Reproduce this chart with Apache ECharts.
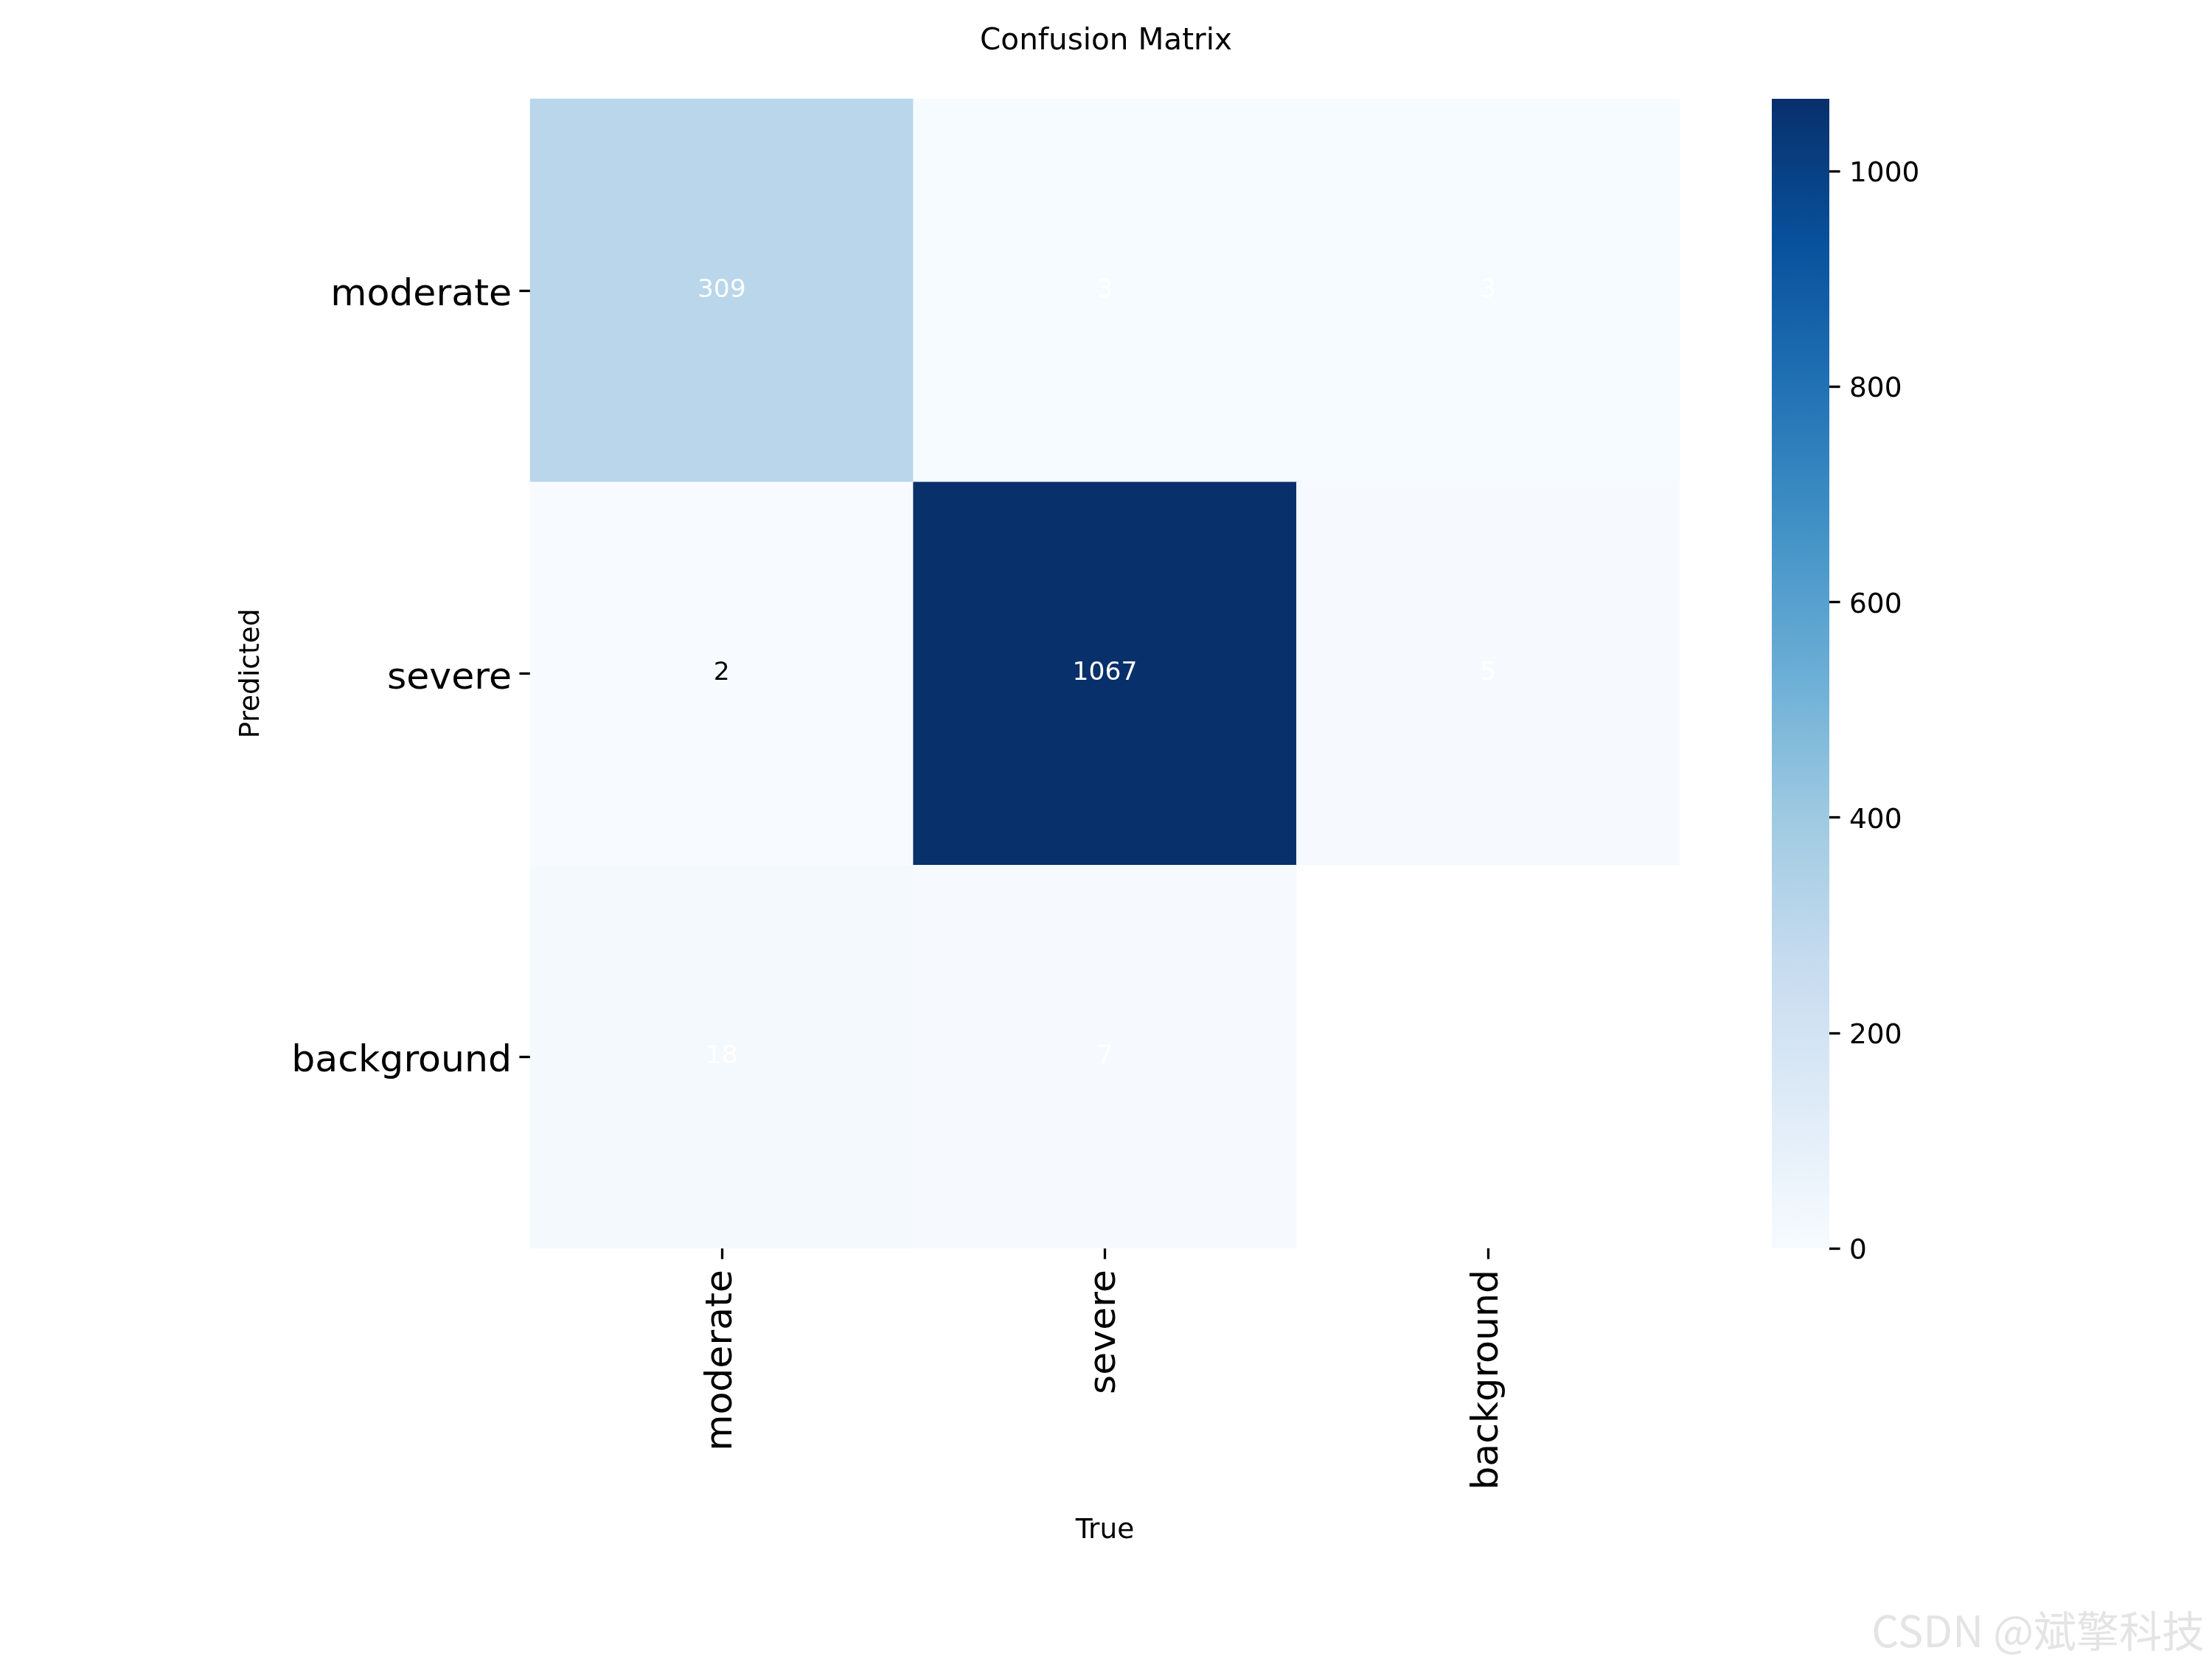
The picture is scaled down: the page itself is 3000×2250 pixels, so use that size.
<!DOCTYPE html>
<html>
<head>
<meta charset="utf-8">
<script src="https://cdn.jsdelivr.net/npm/echarts@6/dist/echarts.min.js"></script>
<style>
  html, body { margin: 0; padding: 0; background: #ffffff; }
  #chart { width: 3000px; height: 2250px; }
</style>
</head>
<body>
<div id="chart"></div>
<script>
// ---- data ----
const trueLabels = ['moderate', 'severe', 'background'];       // columns (x)
const predictedLabels = ['moderate', 'severe', 'background'];  // rows (y)
const rowModerate = [309, 3, 3];
const rowSevere = [2, 1067, 5];
const rowBackground = [18, 7, null];
const matrixRows = [rowModerate, rowSevere, rowBackground];
const colorbarTicks = [0, 200, 400, 600, 800, 1000];
const colorMin = 0;
const colorMax = 1067;

// annotation text colour per cell (style, kept separate from data)
const annotColors = [
  ['#ffffff', '#ffffff', '#ffffff'],
  ['#000000', '#ffffff', '#ffffff'],
  ['#ffffff', '#ffffff', '#ffffff']
];

// matplotlib "Blues"
const blues = ['#f7fbff', '#deebf7', '#c6dbef', '#9ecae1', '#6baed6',
               '#4292c6', '#2171b5', '#08519c', '#08306b'];

const heatData = [];
matrixRows.forEach((row, r) => {
  row.forEach((v, c) => {
    heatData.push({
      value: [c, r, v === null ? '-' : v],
      label: { color: annotColors[r][c] }
    });
  });
});

// colorbar gradient: same evenly spaced stops the visualMap uses
const colorbarGradient = new echarts.graphic.LinearGradient(0, 1, 0, 0,
  blues.map((c, i) => ({ offset: i / (blues.length - 1), color: c })));

const FONT = 'DejaVu Sans';
const chart = echarts.init(document.getElementById('chart'), null, { renderer: 'canvas' });

const option = {
  animation: false,
  backgroundColor: '#ffffff',
  textStyle: { fontFamily: FONT },
  title: {
    text: 'Confusion Matrix',
    left: 'center',
    top: 31,
    textStyle: { fontFamily: FONT, fontSize: 40.5, fontWeight: 'normal', color: '#000000' }
  },
  grid: [
    { left: 719, top: 134, width: 1559, height: 1559, containLabel: false, outerBoundsMode: 'none' },
    { left: 2403, top: 134, width: 78, height: 1559, containLabel: false, outerBoundsMode: 'none' }
  ],
  xAxis: [
    {
      type: 'category',
      gridIndex: 0,
      data: trueLabels,
      position: 'bottom',
      name: 'True',
      nameLocation: 'middle',
      nameGap: 364,
      nameTextStyle: { fontFamily: FONT, fontSize: 37.5, color: '#000000' },
      axisLine: { show: false },
      axisTick: { show: true, alignWithLabel: true, length: 14.6, lineStyle: { color: '#000000', width: 3.3 } },
      axisLabel: { rotate: 90, margin: 29, fontFamily: FONT, fontSize: 50.5, color: '#000000' },
      splitLine: { show: false },
      splitArea: { show: false }
    },
    {
      type: 'category',
      gridIndex: 1,
      data: [''],
      show: false
    }
  ],
  yAxis: [
    {
      type: 'category',
      gridIndex: 0,
      data: predictedLabels,
      inverse: true,
      name: 'Predicted',
      nameLocation: 'middle',
      nameGap: 359,
      nameTextStyle: { fontFamily: FONT, fontSize: 37.5, color: '#000000' },
      axisLine: { show: false },
      axisTick: { show: true, alignWithLabel: true, length: 14.6, lineStyle: { color: '#000000', width: 3.3 } },
      axisLabel: {
        margin: 25, fontFamily: FONT, fontSize: 50.5, color: '#000000',
        formatter: v => '{t|' + v + '}',
        rich: { t: { padding: [14, 0, 0, 0], fontFamily: FONT, fontSize: 50.5, color: '#000000' } }
      },
      splitLine: { show: false },
      splitArea: { show: false }
    },
    {
      type: 'value',
      gridIndex: 1,
      position: 'right',
      min: colorMin,
      max: colorMax,
      z: 20,
      axisLine: { show: false, onZero: false },
      axisTick: { show: true, inside: false, length: 14.6, customValues: colorbarTicks, lineStyle: { color: '#000000', width: 3.3 } },
      axisLabel: {
        show: true, margin: 27, customValues: colorbarTicks,
        fontFamily: FONT, fontSize: 37.5, color: '#000000',
        formatter: v => '{t|' + v + '}',
        rich: { t: { padding: [9, 0, 0, 0], fontFamily: FONT, fontSize: 37.5, color: '#000000' } }
      },
      splitLine: { show: false }
    }
  ],
  visualMap: {
    type: 'continuous',
    show: false,
    seriesIndex: 0,
    dimension: 2,
    min: colorMin,
    max: colorMax,
    inRange: { color: blues }
  },
  series: [
    {
      type: 'heatmap',
      xAxisIndex: 0,
      yAxisIndex: 0,
      data: heatData,
      label: {
        show: true,
        fontFamily: FONT,
        fontSize: 34.5,
        formatter: p => String(p.value[2])
      },
      itemStyle: { borderWidth: 0 },
      emphasis: { disabled: true }
    },
    {
      // colorbar: one bar spanning the full colour range
      type: 'bar',
      xAxisIndex: 1,
      yAxisIndex: 1,
      data: [colorMax],
      barWidth: '100%',
      silent: true,
      itemStyle: { color: colorbarGradient, borderWidth: 0, borderRadius: 0 }
    }
  ],
  graphic: [
    {
      type: 'text',
      right: 10,
      top: 2183,
      style: {
        text: 'CSDN @斌擎科技',
        font: '58px "Noto Sans CJK SC"',
        fill: '#e4e4e4',
        shadowColor: 'rgba(120,120,120,0.6)',
        shadowBlur: 2,
        shadowOffsetX: 1,
        shadowOffsetY: 1
      }
    }
  ]
};

chart.setOption(option);
</script>
</body>
</html>
